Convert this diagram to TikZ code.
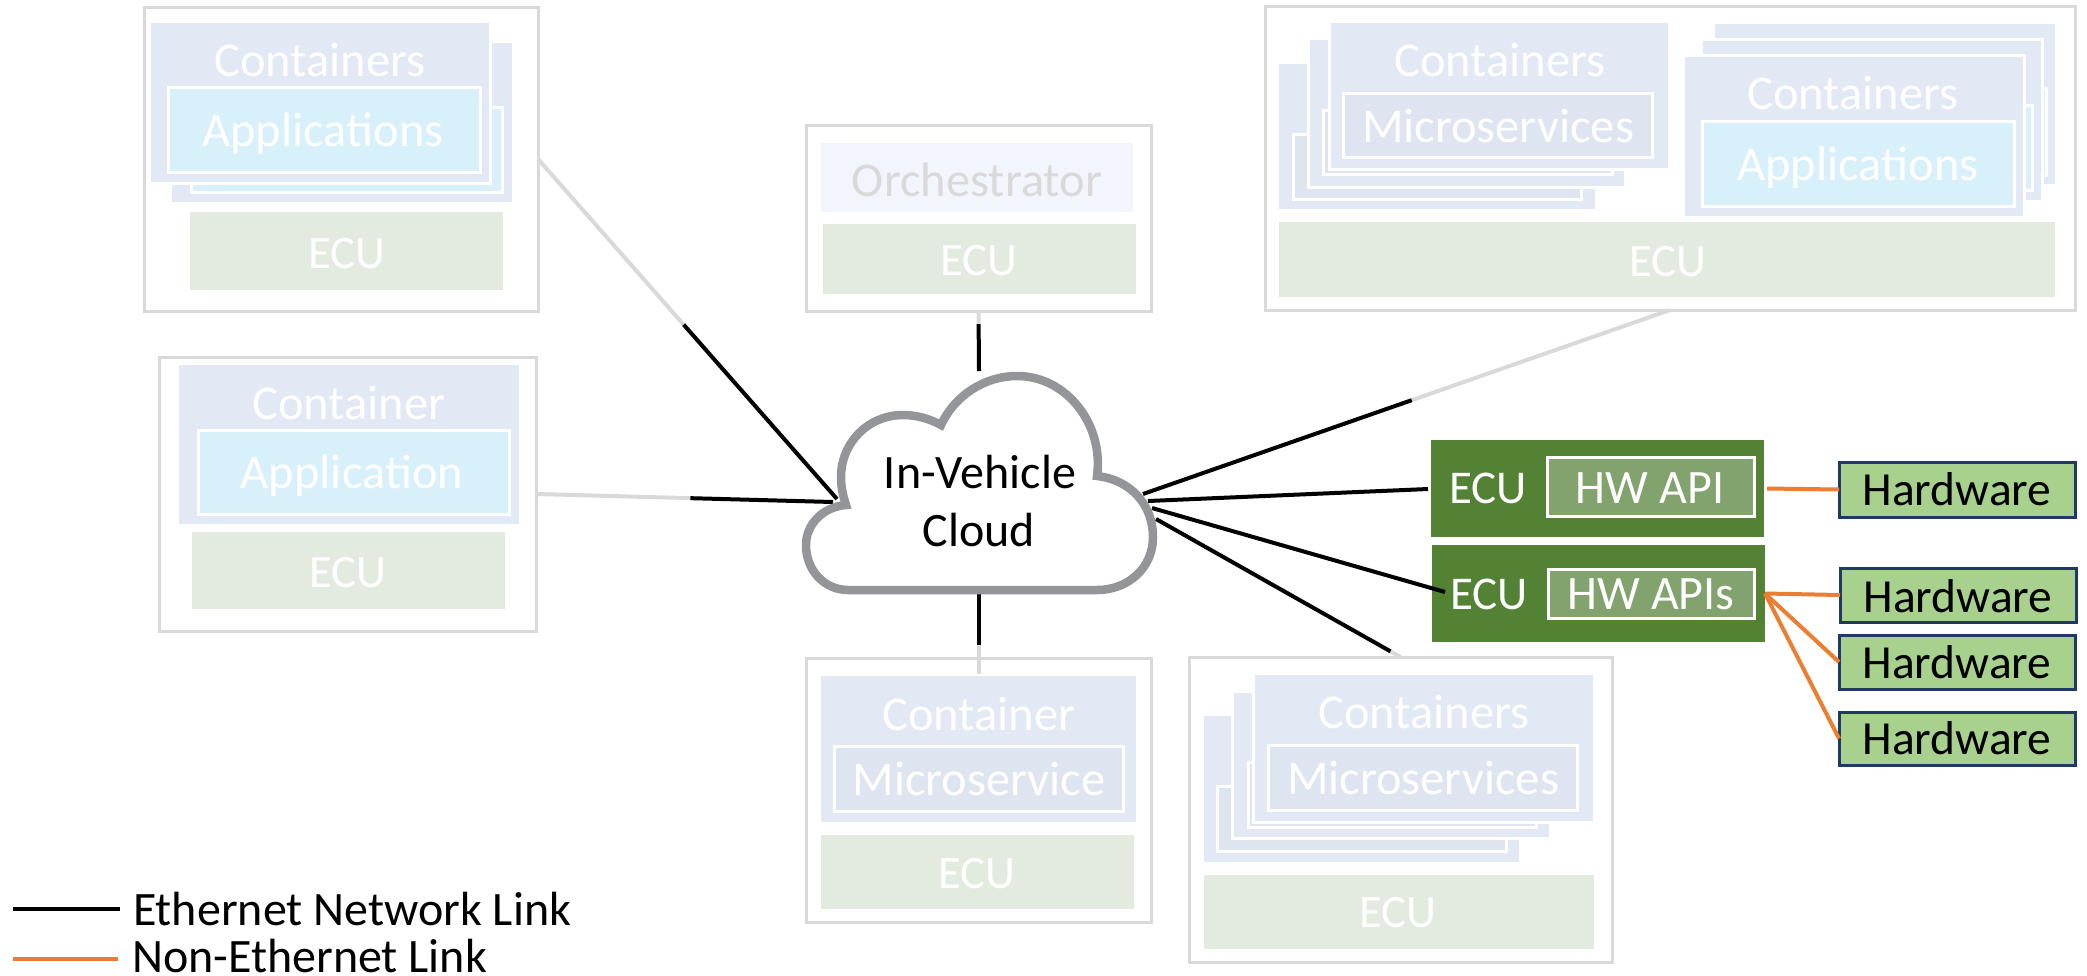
\documentclass[tikz,border=0pt]{standalone}
\usepackage{fontspec}
\setmainfont{Carlito}
\usetikzlibrary{calc}
\definecolor{contc}{HTML}{E2E8F4}
\definecolor{ecuc}{HTML}{E3EBE0}
\definecolor{appc}{HTML}{D7F0FA}
\definecolor{micc}{HTML}{DEE5F0}
\definecolor{orchc}{HTML}{F2F5FB}
\definecolor{edgec}{HTML}{D9D9D9}
\definecolor{dkgreen}{HTML}{548235}
\definecolor{apigreen}{HTML}{82A26E}
\definecolor{hwfill}{HTML}{A9D18E}
\definecolor{hwedge}{HTML}{1F3864}
\definecolor{orangec}{HTML}{ED7D31}
\definecolor{cloudc}{HTML}{939598}
\newcommand{\rbx}[6]{%
  \pgfmathsetmacro{\bxw}{#5-#3}\pgfmathsetmacro{\bxh}{#6-#4}%
  \node[#2,minimum width=\bxw pt,minimum height=\bxh pt] (#1) at ({(#3+#5)/2},{(#4+#6)/2}) {};}
\tikzset{
  x=1pt,y=-1pt,
  allbox/.style={rectangle,inner sep=0pt,outer sep=0pt},
  hostbox/.style={allbox,draw=edgec,fill=white,line width=3pt},
  contbox/.style={allbox,fill=contc,draw=white,line width=3pt},
  backbox/.style={allbox,fill=contc},
  appbox/.style={allbox,fill=appc,draw=white,line width=3pt},
  micbox/.style={allbox,fill=micc,draw=white,line width=3pt},
  ecubox/.style={allbox,fill=ecuc},
  orchbox/.style={allbox,fill=orchc},
  gecubox/.style={allbox,fill=dkgreen},
  apibox/.style={allbox,fill=apigreen,draw=white,line width=3pt},
  hwbox/.style={allbox,fill=hwfill,draw=hwedge,line width=3pt},
  lbl/.style={anchor=base,inner sep=0pt,outer sep=0pt,text=white,font=\fontsize{48.5}{56}\selectfont},
  ecul/.style={lbl,font=\fontsize{46.5}{52}\selectfont},
  gecul/.style={lbl,font=\fontsize{47}{52}\selectfont},
  dkl/.style={lbl,text=black,font=\fontsize{48}{56}\selectfont},
  hwl/.style={dkl,font=\fontsize{47.5}{54}\selectfont},
  apil/.style={lbl,font=\fontsize{48}{54}\selectfont},
  orchl/.style={lbl,text=edgec},
  legl/.style={dkl,anchor=base west},
  fadeline/.style={draw=edgec,line width=4pt},
  netline/.style={draw=black,line width=4pt},
  orline/.style={draw=orangec,line width=4pt},
}
\begin{document}
\begin{tikzpicture}
\useasboundingbox (0,0) rectangle (2087,975);
\fill[white] (0,0) rectangle (2087,975);

% Host A
\rbx{hostA}{hostbox}{144}{7}{538}{311}
\rbx{aBack}{backbox}{172}{43}{512}{202}
\rbx{aBackApp}{appbox}{191}{107}{502}{192}
\rbx{aFront}{contbox}{149}{21}{490}{183}
\rbx{aApp}{appbox}{168}{87}{480}{172}
\rbx{aEcu}{ecubox}{190}{212}{503}{290}
\node[lbl] (aTc) at (320,76) {Containers};
\node[lbl] (aTa) at (323,146) {Applications};
\node[ecul] (aTe) at (347,268) {ECU};

% Host B
\rbx{hostB}{hostbox}{159}{357}{536}{631}
\rbx{bCont}{backbox}{179}{365}{519}{524}
\rbx{bApp}{appbox}{198}{430}{509}{514}
\rbx{bEcu}{ecubox}{192}{532}{505}{609}
\node[lbl] (bTc) at (349,419) {Container};
\node[lbl] (bTa) at (352,488) {Application};
\node[ecul] (bTe) at (348,587) {ECU};

% Host C
\rbx{hostC}{hostbox}{806}{125}{1151}{311}
\rbx{cOrch}{orchbox}{821}{143}{1133}{212}
\rbx{cEcu}{ecubox}{823}{224}{1136}{294}
\node[orchl] (cTo) at (977,196) {Orchestrator};
\node[ecul] (cTe) at (979,275) {ECU};

% Host D
\rbx{hostD}{hostbox}{806}{658}{1151}{922}
\rbx{dCont}{backbox}{821}{676}{1136}{822}
\rbx{dMic}{micbox}{834}{746}{1123}{811}
\rbx{dEcu}{ecubox}{821}{835}{1134}{909}
\node[lbl] (dTc) at (979,730) {Container};
\node[lbl] (dTm) at (979,795) {Microservice};
\node[ecul] (dTe) at (977,888) {ECU};

% Host E
\rbx{hostE}{hostbox}{1189}{657}{1612}{962}
\rbx{eBack}{backbox}{1204}{716}{1519}{862}
\rbx{eBackMic}{micbox}{1217}{786}{1506}{851}
\rbx{eMid}{contbox}{1232}{691}{1550}{838}
\rbx{eMidMic}{micbox}{1248}{762}{1536}{827}
\rbx{eFront}{contbox}{1253}{673}{1594}{822}
\rbx{eMic}{micbox}{1268}{745}{1577}{810}
\rbx{eEcu}{ecubox}{1204}{875}{1594}{949}
\node[lbl] (eTc) at (1424,728) {Containers};
\node[lbl] (eTm) at (1423,794) {Microservices};
\node[ecul] (eTe) at (1398,927) {ECU};

% Host F
\rbx{hostF}{hostbox}{1265}{6}{2075}{310}
\rbx{fBack}{backbox}{1279}{64}{1595}{209}
\rbx{fBackMic}{micbox}{1293}{134}{1581}{199}
\rbx{fMid}{contbox}{1308}{38}{1625}{187}
\rbx{fMidMic}{micbox}{1323}{110}{1612}{174}
\rbx{fFront}{contbox}{1329}{21}{1669}{169}
\rbx{fMic}{micbox}{1343}{93}{1652}{157}
\rbx{gBack}{backbox}{1715}{24}{2055}{184}
\rbx{gBackApp}{appbox}{1732}{88}{2046}{175}
\rbx{gMid}{contbox}{1701}{39}{2042}{201}
\rbx{gMidApp}{appbox}{1720}{105}{2032}{190}
\rbx{gFront}{contbox}{1683}{55}{2024}{217}
\rbx{gApp}{appbox}{1702}{121}{2014}{206}
\rbx{fEcu}{ecubox}{1279}{222}{2055}{297}
\node[lbl] (fTc) at (1500,76) {Containers};
\node[lbl] (fTm) at (1498,142) {Microservices};
\node[lbl] (gTc) at (1853,109) {Containers};
\node[lbl] (gTa) at (1858,180) {Applications};
\node[ecul] (fTe) at (1668,276) {ECU};

% Green ECUs
\rbx{ecuOne}{gecubox}{1431}{440}{1764}{537}
\rbx{apiOne}{apibox}{1547}{457}{1754}{516}
\rbx{ecuTwo}{gecubox}{1432}{545}{1765}{642}
\rbx{apiTwo}{apibox}{1548}{569}{1754}{618}
\node[gecul] (e1T) at (1488,503) {ECU};
\node[apil] (a1T) at (1650,503) {HW API};
\node[gecul] (e2T) at (1489,609) {ECU};
\node[apil] (a2T) at (1651,609) {HW APIs};

% Hardware
\rbx{hwOne}{hwbox}{1839}{462}{2075}{517}
\rbx{hwTwo}{hwbox}{1840}{568}{2076}{622}
\rbx{hwThree}{hwbox}{1839}{635}{2075}{689}
\rbx{hwFour}{hwbox}{1839}{712}{2075}{765}
\node[hwl] (h1T) at (1957,505) {Hardware};
\node[hwl] (h2T) at (1958,612) {Hardware};
\node[hwl] (h3T) at (1957,678) {Hardware};
\node[hwl] (h4T) at (1957,754) {Hardware};

% Cloud attachment points
\coordinate (cA) at (837,499);
\coordinate (cB) at (833,502);
\coordinate (cC) at (979,371);
\coordinate (cD) at (979,594);
\coordinate (cF) at (1143,494);
\coordinate (cG) at (1148,501);
\coordinate (cH) at (1152,508);
\coordinate (cE) at (1156,519);
\coordinate (tipTwo) at (1445,592);
\coordinate (tipOne) at (1428,489);
\coordinate (dEnd) at (979,674);

% Links
\coordinate (mA) at ($(hostA.east)!0.487!(cA)$);
\coordinate (mB) at ($(hostB.east)!0.52!(cB)$);
\coordinate (mC) at ($(hostC.south)!0.22!(cC)$);
\coordinate (mD) at ($(cD)!0.64!(dEnd)$);
\coordinate (mF) at ($(hostF.south)!0.49!(cF)$);
\coordinate (mE) at ($(cE)!0.96!(hostE.north)$);
\draw[fadeline] (hostA.east) -- (mA);
\draw[netline] (mA) -- (cA);
\draw[fadeline] (hostB.east) -- (mB);
\draw[netline] (mB) -- (cB);
\draw[fadeline] (hostC.south) -- (mC);
\draw[netline] (mC) -- (cC);
\draw[netline] (cD) -- (mD);
\draw[fadeline] (mD) -- (dEnd);
\draw[fadeline] (hostF.south) -- (mF);
\draw[netline] (mF) -- (cF);
\draw[netline] (cG) -- (tipOne);
\draw[netline] (cH) -- (tipTwo);
\draw[netline] (cE) -- (mE);
\draw[fadeline] (mE) -- (hostE.north);

\draw[orline] ($(ecuOne.east)+(3,0)$) -- (hwOne.west);
\draw[orline] (ecuTwo.east) -- (hwTwo.west);
\draw[orline] (ecuTwo.east) -- (hwThree.west);
\draw[orline] (ecuTwo.east) -- (hwFour.west);

% Cloud
\draw[draw=cloudc,fill=white,line width=8.5pt,miter limit=10]
  (848,590) -- (1097,590)
  .. controls (1128,590) and (1153,568) .. (1153,537)
  .. controls (1153,506) and (1132,480) .. (1097,476)
  .. controls (1104,425) and (1067,376) .. (1017,376)
  .. controls (985,376) and (955,395) .. (941,425)
  .. controls (930,419) and (917,415) .. (903,415)
  .. controls (868,415) and (841,443) .. (841,477)
  .. controls (841,487) and (843,496) .. (846,505)
  .. controls (822,507) and (806,525) .. (806,545)
  .. controls (806,571) and (825,590) .. (848,590) -- cycle;
\node[dkl] (cloudOne) at (980,488) {In-Vehicle};
\node[dkl] (cloudTwo) at (979,546) {Cloud};

% Legend
\coordinate (lgA) at (13,909);
\coordinate (lgB) at (120,909);
\coordinate (lgC) at (13,959);
\coordinate (lgD) at (118,959);
\draw[netline] (lgA) -- (lgB);
\draw[orline] (lgC) -- (lgD);
\node[legl] (legOne) at (133,925) {Ethernet Network Link};
\node[legl] (legTwo) at (132,972) {Non-Ethernet Link};
\end{tikzpicture}
\end{document}
